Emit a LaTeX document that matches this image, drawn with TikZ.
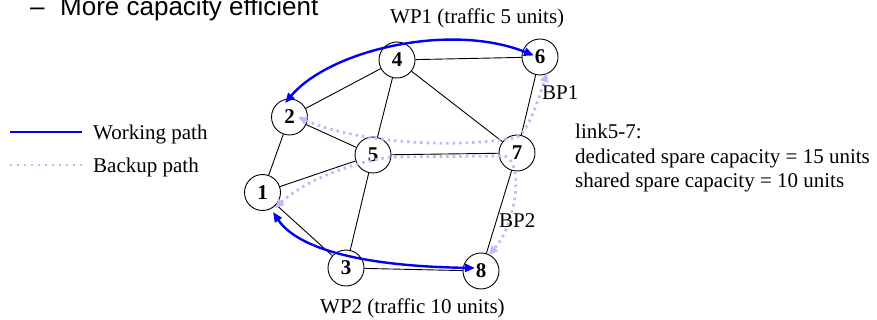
\documentclass[tikz,border=0pt]{standalone}
\usepackage{fontspec}
\setmainfont{Liberation Serif}
\newfontfamily\arialfont{Liberation Sans}
\usetikzlibrary{arrows.meta,calc}

\definecolor{workblue}{RGB}{0,0,245}
\definecolor{backlav}{RGB}{188,188,250}

\begin{document}
\begin{tikzpicture}[x=1pt,y=-1pt,
  netnode/.style={circle,draw,fill=white,line width=0.9pt,minimum size=36pt,
    inner sep=0pt,font=\fontsize{21}{21}\selectfont\bfseries},
  link/.style={line width=0.9pt},
  work/.style={draw=workblue,line width=2.4pt,
    {Triangle[length=10pt,width=8pt]}-{Triangle[length=10pt,width=8pt]}},
  backup/.style={draw=backlav,line width=2.8pt,dash pattern=on 2.5pt off 4pt,
    {Triangle[length=9pt,width=8pt]}-{Triangle[length=9pt,width=8pt]}},
  lbl/.style={anchor=base west,inner sep=0pt,font=\fontsize{21}{21}\selectfont},
  headtext/.style={anchor=base west,inner sep=0pt,font=\arialfont\fontsize{26}{26}\selectfont}]

\useasboundingbox[fill=white] (0,0) rectangle (877,320);

% heading line of the slide (runs off the top edge)
\node[headtext] (dash) at (30,16) {–};
\node[headtext] (head) at (60,16) {More capacity efficient};

% network nodes
\node[netnode] (n1) at (262.5,192.5) {1};
\node[netnode] (n2) at (289.5,117) {2};
\node[netnode] (n3) at (346,268) {3};
\node[netnode] (n4) at (397,60) {4};
\node[netnode] (n5) at (373,155) {5};
\node[netnode] (n6) at (540,57) {6};
\node[netnode] (n7) at (517,153) {7};
\node[netnode] (n8) at (481,271) {8};

% physical links
\draw[link] (n4) -- (n6);
\draw[link] (n4) -- (n2);
\draw[link] (n4) -- (n5);
\draw[link] (n4) -- (n7);
\draw[link] (n6) -- (n7);
\draw[link] (n2) -- (n5);
\draw[link] (n2) -- (n1);
\draw[link] (n5) -- (n7);
\draw[link] (n1) -- (n5);
\draw[link] (n5) -- (n3);
\draw[link] (n1) -- (n3);
\draw[link] (n3) -- (n8);
\draw[link] (n7) -- (n8);

% backup paths
\draw[backup] ($(n2)+(8.5,0)$) .. controls (350,140) and (440,150) .. (515,138)
  .. controls (528,134) and (538,100) .. ($(n6)+(7,16)$);
\draw[backup] ($(n1)+(12.5,15.5)$) .. controls (300,185) and (340,165) .. (390,157)
  -- (505,156) .. controls (525,165) and (515,225) .. ($(n8)+(8,-16)$);

% working paths
\draw[work] ($(n2)+(-4.5,-14)$) .. controls (330,50) and (450,22) .. ($(n6)+(-6,-1.5)$);
\draw[work] ($(n1)+(10.5,19.5)$) .. controls (295,245) and (350,266) .. ($(n8)+(-6,-3)$);

% path labels
\node[lbl] (wp1) at (390,24) {WP1 (traffic 5 units)};
\node[lbl] (bp1) at (542,100) {BP1};
\node[lbl] (bp2) at (499,228) {BP2};
\node[lbl] (wp2) at (320,313) {WP2 (traffic 10 units)};

% legend
\coordinate (lw1) at (10,132);
\coordinate (lw2) at (82,132);
\coordinate (lb1) at (10,165);
\coordinate (lb2) at (82,165);
\draw[draw=workblue,line width=2.4pt] (lw1) -- (lw2);
\draw[draw=backlav,line width=2.2pt,dash pattern=on 2pt off 5pt] (lb1) -- (lb2);
\node[lbl] (legw) at (93,140) {Working path};
\node[lbl] (legb) at (93,173) {Backup path};

% note on link 5-7
\node[lbl] (note1) at (575,139) {link5-7:};
\node[lbl] (note2) at (575,163.5) {dedicated spare capacity = 15 units};
\node[lbl] (note3) at (575,188) {shared spare capacity = 10 units};
\end{tikzpicture}
\end{document}
